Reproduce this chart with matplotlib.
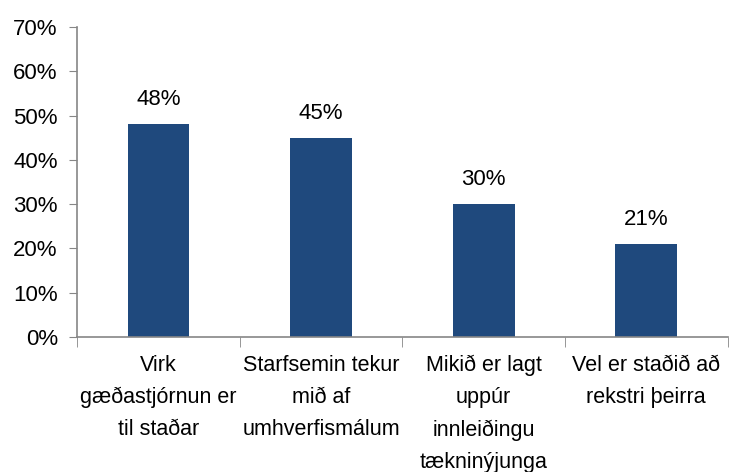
import numpy as np
import matplotlib.pyplot as plt
from matplotlib.ticker import FuncFormatter, FixedLocator

categories = ["Virk\ngæðastjórnun er\ntil staðar",
              "Starfsemin tekur\nmið af\numhverfismálum",
              "Mikið er lagt\nuppúr\ninnleiðingu\ntækninýjunga",
              "Vel er staðið að\nrekstri þeirra"]
values = [48, 45, 30, 21]

plt.rcParams['font.family'] = ['Liberation Sans', 'DejaVu Sans']

fig = plt.figure(figsize=(7.29, 4.72), dpi=100)
ax = fig.add_axes([0.106, 0.286, 0.892, 0.657])

x = np.arange(len(values))
bars = ax.bar(x, values, width=0.38, color='#1F497D')

for b, v in zip(bars, values):
    ax.annotate(f"{v}%", (b.get_x() + b.get_width() / 2, v), xytext=(0, 10),
                textcoords='offset points', ha='center', va='bottom', fontsize=16)

ax.set_xlim(-0.5, len(values) - 0.5)
ax.set_ylim(0, 70)
ax.set_yticks(range(0, 71, 10))
ax.yaxis.set_major_formatter(FuncFormatter(lambda v, p: f"{v:.0f}%"))
ax.tick_params(axis='y', labelsize=16, length=6, color='#868686', pad=8)

ax.set_xticks(x)
ax.set_xticklabels(categories, fontsize=15.5, linespacing=1.68)
ax.tick_params(axis='x', which='major', length=0, pad=13)
ax.xaxis.set_minor_locator(FixedLocator(np.arange(-0.5, len(values), 1)))
ax.tick_params(axis='x', which='minor', length=7, color='#868686')

for s in ['top', 'right']:
    ax.spines[s].set_visible(False)
for s in ['left', 'bottom']:
    ax.spines[s].set_color('#868686')
    ax.spines[s].set_linewidth(1.2)

fig.savefig('out.png', dpi=100)
